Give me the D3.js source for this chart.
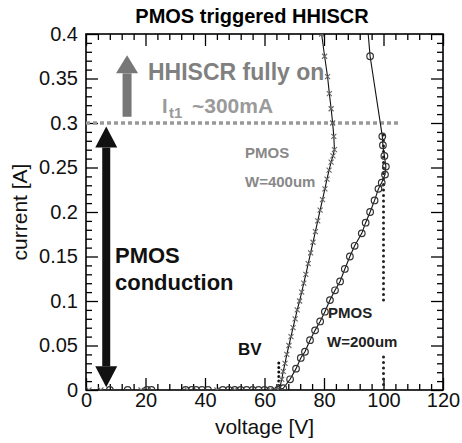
<!DOCTYPE html>
<html><head><meta charset="utf-8">
<script src="https://cdn.jsdelivr.net/npm/d3@7/dist/d3.min.js"></script>
<style>
body{margin:0;background:#fff;}
svg{font-family:"Liberation Sans",Arial,sans-serif;}
</style></head>
<body><svg id="c" width="462" height="443"></svg>
<script>
// ---- data ----
const xTickValues = [0, 20, 40, 60, 80, 100, 120];
const xTickLabels = ["0", "20", "40", "60", "80", "100", "120"];
const yTickValues = [0, 0.05, 0.1, 0.15, 0.2, 0.25, 0.3, 0.35, 0.4];
const yTickLabels = ["0", "0.05", "0.1", "0.15", "0.2", "0.25", "0.3", "0.35", "0.4"];

// PMOS W=400um (x markers)
const w400Voltage = [1, 5, 18.5, 34, 44, 50, 62, 64.5, 65.2, 65.8, 66.3, 66.9, 67.5, 68.2, 68.9, 69.6, 70.3, 71, 71.8, 72.5, 73.2, 73.9, 74.7, 75.5, 76.3, 77.1, 77.9, 78.7, 79.5, 80.3, 81, 81.7, 82.4, 83, 83.5, 83.3, 82.9, 82.4, 81.8, 81.2, 80.2, 79.2, 78.9];
const w400Current = [0, 0, 0, 0, 0, 0, 0, 0, 0.003, 0.012, 0.021, 0.03, 0.04, 0.05, 0.06, 0.07, 0.08, 0.09, 0.1, 0.11, 0.12, 0.13, 0.142, 0.154, 0.166, 0.178, 0.19, 0.202, 0.214, 0.226, 0.237, 0.247, 0.256, 0.263, 0.27, 0.285, 0.3, 0.316, 0.333, 0.352, 0.375, 0.4, 0.41];

// PMOS W=200um (circle markers)
const w200Voltage = [8, 14, 20.5, 22, 33.5, 35.5, 37, 39, 41, 46, 48, 50, 52, 54, 56, 58, 60, 62, 64.5, 66.3, 68.6, 70.6, 72.2, 73.6, 75.3, 77, 78.7, 80.3, 82, 83.7, 85.4, 87, 88.7, 90.3, 92.7, 94, 95.5, 97, 98.3, 99.4, 100.5, 100.8, 100.3, 99.8, 99.6, 95.5, 94.6];
const w200Current = [0, 0, 0, 0, 0, 0, 0, 0, 0, 0, 0, 0, 0, 0, 0, 0, 0, 0, 0, 0.002, 0.012, 0.024, 0.036, 0.043, 0.056, 0.067, 0.077, 0.088, 0.101, 0.112, 0.122, 0.136, 0.15, 0.162, 0.176, 0.188, 0.2, 0.213, 0.226, 0.233, 0.242, 0.251, 0.263, 0.275, 0.285, 0.375, 0.41];

// annotation reference lines
const bvVoltage = 64.8, bvTop = 0.035;
const v100Voltage = 100, v100Segments = [[0, 0.04], [0.101, 0.292]];
const it1Current = 0.3, it1End = 105;

// ---- chart ----
const svg = d3.select("#c");
const L = 86, R = 443, T = 34, B = 390;
const x = d3.scaleLinear().domain([0, 120]).range([L, R]);
const y = d3.scaleLinear().domain([0, 0.4]).range([B, T]);
const minorX = d3.range(0, 121, 4).filter(v => v % 20 !== 0);
const minorY = d3.range(0, 41, 1).map(v => v / 100).filter(v => Math.round(v * 100) % 5 !== 0);

svg.append("defs").append("clipPath").attr("id", "clip")
  .append("rect").attr("x", L).attr("y", T).attr("width", R - L).attr("height", B - T);

function styleAxis(g) {
  g.select(".domain").remove();
  g.selectAll("line").attr("stroke", "#000").attr("stroke-width", 1.3);
  g.selectAll("text").attr("font-size", 20).attr("fill", "#111");
}
// bottom
svg.append("g").attr("transform", `translate(0,${B})`)
  .call(d3.axisBottom(x).tickValues(xTickValues).tickFormat((d, i) => xTickLabels[i]).tickSizeInner(-12).tickSizeOuter(0).tickPadding(3))
  .call(styleAxis);
svg.append("g").attr("transform", `translate(0,${B})`)
  .call(d3.axisBottom(x).tickValues(minorX).tickFormat("").tickSizeInner(-6).tickSizeOuter(0)).call(styleAxis);
// top
svg.append("g").attr("transform", `translate(0,${T})`)
  .call(d3.axisTop(x).tickValues(xTickValues).tickFormat("").tickSizeInner(-12).tickSizeOuter(0)).call(styleAxis);
svg.append("g").attr("transform", `translate(0,${T})`)
  .call(d3.axisTop(x).tickValues(minorX).tickFormat("").tickSizeInner(-6).tickSizeOuter(0)).call(styleAxis);
// left
svg.append("g").attr("transform", `translate(${L},0)`)
  .call(d3.axisLeft(y).tickValues(yTickValues).tickFormat((d, i) => yTickLabels[i]).tickSizeInner(-12).tickSizeOuter(0).tickPadding(8))
  .call(styleAxis);
svg.append("g").attr("transform", `translate(${L},0)`)
  .call(d3.axisLeft(y).tickValues(minorY).tickFormat("").tickSizeInner(-6).tickSizeOuter(0)).call(styleAxis);
// right
svg.append("g").attr("transform", `translate(${R},0)`)
  .call(d3.axisRight(y).tickValues(yTickValues).tickFormat("").tickSizeInner(-12).tickSizeOuter(0)).call(styleAxis);
svg.append("g").attr("transform", `translate(${R},0)`)
  .call(d3.axisRight(y).tickValues(minorY).tickFormat("").tickSizeInner(-6).tickSizeOuter(0)).call(styleAxis);

svg.append("rect").attr("x", L).attr("y", T).attr("width", R - L).attr("height", B - T)
  .attr("fill", "none").attr("stroke", "#000").attr("stroke-width", 1.6);

// axis titles
svg.append("text").attr("x", (L + R) / 2).attr("y", 434).attr("text-anchor", "middle")
  .attr("font-size", 21).attr("fill", "#111").text("voltage [V]");
svg.append("text").attr("transform", `translate(27,${(T + B) / 2}) rotate(-90)`).attr("text-anchor", "middle")
  .attr("font-size", 21).attr("fill", "#111").text("current [A]");
svg.append("text").attr("x", 252).attr("y", 23).attr("text-anchor", "middle")
  .attr("font-size", 20).attr("font-weight", "bold").attr("fill", "#000").text("PMOS triggered HHISCR");

// dotted reference lines
const plot = svg.append("g").attr("clip-path", "url(#clip)");
plot.append("line").attr("x1", x(0)).attr("x2", x(it1End)).attr("y1", y(it1Current)).attr("y2", y(it1Current))
  .attr("stroke", "#999").attr("stroke-width", 3.5).attr("stroke-dasharray", "4 3");
plot.append("line").attr("x1", x(bvVoltage)).attr("x2", x(bvVoltage)).attr("y1", y(0)).attr("y2", y(bvTop))
  .attr("stroke", "#111").attr("stroke-width", 3).attr("stroke-linecap", "round").attr("stroke-dasharray", "0 4.5");
v100Segments.forEach(s => {
  plot.append("line").attr("x1", x(v100Voltage)).attr("x2", x(v100Voltage)).attr("y1", y(s[0])).attr("y2", y(s[1]))
    .attr("stroke", "#222").attr("stroke-width", 3).attr("stroke-linecap", "round").attr("stroke-dasharray", "0 5.5");
});

// curves
const line = d3.line().x(d => x(d[0])).y(d => y(d[1]));
const w400 = w400Voltage.map((v, i) => [v, w400Current[i]]);
const w200 = w200Voltage.map((v, i) => [v, w200Current[i]]);
plot.append("path").datum(w400.filter(d => d[1] > 0 || d[0] >= 64)).attr("d", line)
  .attr("fill", "none").attr("stroke", "#111").attr("stroke-width", 1.1);
plot.append("path").datum(w200.filter(d => d[1] > 0 || d[0] >= 64)).attr("d", line)
  .attr("fill", "none").attr("stroke", "#111").attr("stroke-width", 1.1);
plot.selectAll(".xm").data(w400).join("path").attr("class", "xm")
  .attr("transform", d => `translate(${x(d[0])},${y(d[1])})`)
  .attr("d", "M-2.5,-2.5L2.5,2.5M-2.5,2.5L2.5,-2.5")
  .attr("stroke", "#666").attr("stroke-width", 1.1).attr("fill", "none");
plot.selectAll(".cm").data(w200).join("circle").attr("class", "cm")
  .attr("cx", d => x(d[0])).attr("cy", d => y(d[1])).attr("r", 3.3)
  .attr("fill", "none").attr("stroke", "#333").attr("stroke-width", 1.2);

// arrows
function vArrow(xp, y1, y2, color, headW, headH, shaftW, both) {
  const g = svg.append("g").attr("fill", color);
  const dir = y2 < y1 ? -1 : 1;
  const shaftStart = both ? y1 + dir * headH : y1;
  g.append("rect").attr("x", xp - shaftW / 2).attr("width", shaftW)
    .attr("y", Math.min(shaftStart, y2 - dir * headH)).attr("height", Math.abs((y2 - dir * headH) - shaftStart));
  g.append("path").attr("d", `M${xp - headW / 2},${y2 - dir * headH}L${xp + headW / 2},${y2 - dir * headH}L${xp},${y2}Z`);
  if (both) g.append("path").attr("d", `M${xp - headW / 2},${y1 + dir * headH}L${xp + headW / 2},${y1 + dir * headH}L${xp},${y1}Z`);
}
vArrow(x(6.8), y(0.296), y(0.003), "#111", 22, 21, 8, true);
vArrow(x(13.8), y(0.307), y(0.376), "#777", 22, 18, 9, false);

// labels
svg.append("text").attr("x", 148).attr("y", 80).attr("font-size", 23).attr("font-weight", "bold")
  .attr("fill", "#808080").text("HHISCR fully on");
svg.append("text").attr("x", 162).attr("y", 113).attr("font-size", 20).attr("font-weight", "bold").attr("fill", "#9a9a9a").text("I");
svg.append("text").attr("x", 169).attr("y", 118).attr("font-size", 15).attr("font-weight", "bold").attr("fill", "#9a9a9a").text("t1");
svg.append("text").attr("x", 192).attr("y", 113).attr("font-size", 21).attr("font-weight", "bold").attr("fill", "#9a9a9a").text("~300mA");
svg.append("text").attr("x", 245).attr("y", 158).attr("font-size", 15).attr("font-weight", "bold").attr("fill", "#888").text("PMOS");
svg.append("text").attr("x", 245).attr("y", 187).attr("font-size", 15).attr("font-weight", "bold").attr("fill", "#888").text("W=400um");
svg.append("text").attr("x", 328).attr("y", 318).attr("font-size", 15).attr("font-weight", "bold").attr("fill", "#222").text("PMOS");
svg.append("text").attr("x", 327).attr("y", 347).attr("font-size", 15).attr("font-weight", "bold").attr("fill", "#222").text("W=200um");
svg.append("text").attr("x", 238).attr("y", 355).attr("font-size", 17).attr("font-weight", "bold").attr("fill", "#111").text("BV");
svg.append("text").attr("x", 115).attr("y", 263).attr("font-size", 22).attr("font-weight", "bold").attr("fill", "#111").text("PMOS");
svg.append("text").attr("x", 115).attr("y", 290).attr("font-size", 22).attr("font-weight", "bold").attr("fill", "#111").text("conduction");
</script></body></html>
